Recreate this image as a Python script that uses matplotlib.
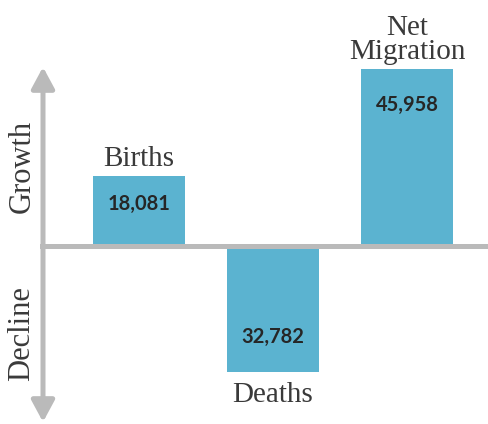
import matplotlib
matplotlib.use("Agg")
import matplotlib.pyplot as plt
from matplotlib.patches import FancyArrowPatch

# data
categories = ["Births", "Deaths", "Net Migration"]
label_lines = [["Births"], ["Deaths"], ["Net", "Migration"]]
values = [18081, -32782, 45958]
value_labels = ["18,081", "32,782", "45,958"]

bar_color = "#5bb3d0"
axis_color = "#bababa"
text_color = "#3a3a3a"
label_font = "Liberation Serif"
value_font = "Lato"

W, H = 488, 424
fig = plt.figure(figsize=(W / 100, H / 100), dpi=100)
ax = fig.add_axes([0, 0, 1, 1])
ax.axis("off")

# pixel scale: zero line at 246 px from top, ~0.00385 px per person
s = 0.00385
zero_px = 246
ax.set_ylim(-(H - zero_px) / s, zero_px / s)
first_px, step_px = 139, 134
ax.set_xlim(-first_px / step_px, (W - first_px) / step_px)

xs = list(range(len(categories)))
ax.bar(xs, values, width=92 / step_px, color=bar_color, zorder=2)

# zero line
ax.axhline(0, xmin=42 / W, xmax=1, color=axis_color, lw=3.6, zorder=3)

# vertical double arrow
arr = FancyArrowPatch((43 / W, 1 - 422 / H), (43 / W, 1 - 67 / H),
                      transform=ax.transAxes,
                      arrowstyle="<|-|>,head_length=13,head_width=7",
                      mutation_scale=1, color=axis_color, lw=3.6,
                      shrinkA=0, shrinkB=0, zorder=3)
ax.add_patch(arr)

ax.text(22 / W, 1 - 166 / H, "Growth", rotation=90, ha="center", va="center",
        family=label_font, fontsize=22, color=text_color, transform=ax.transAxes)
ax.text(22 / W, 1 - 334 / H, "Decline", rotation=90, ha="center", va="center",
        family=label_font, fontsize=22, color=text_color, transform=ax.transAxes)

px = 0.72  # points per pixel
for x, v, lines, vl in zip(xs, values, label_lines, value_labels):
    if v > 0:
        # category name above the bar
        for k, line in enumerate(reversed(lines)):
            ax.annotate(line, (x, v), xytext=(0, (10 + 24 * k) * px),
                        textcoords="offset points", ha="center", va="baseline",
                        family=label_font, fontsize=21, color=text_color)
        off = -28 if len(lines) == 1 else -36
        ax.annotate(vl, (x, v), xytext=(0, off * px), textcoords="offset points",
                    ha="center", va="center", family=value_font,
                    fontweight="bold", fontsize=14.5, color="#262626")
    else:
        ax.annotate(lines[0], (x, v), xytext=(0, -10 * px),
                    textcoords="offset points", ha="center", va="top",
                    family=label_font, fontsize=21, color=text_color)
        ax.annotate(vl, (x, v), xytext=(0, 35 * px), textcoords="offset points",
                    ha="center", va="center", family=value_font,
                    fontweight="bold", fontsize=14.5, color="#262626")

fig.savefig("out.png", dpi=100)
